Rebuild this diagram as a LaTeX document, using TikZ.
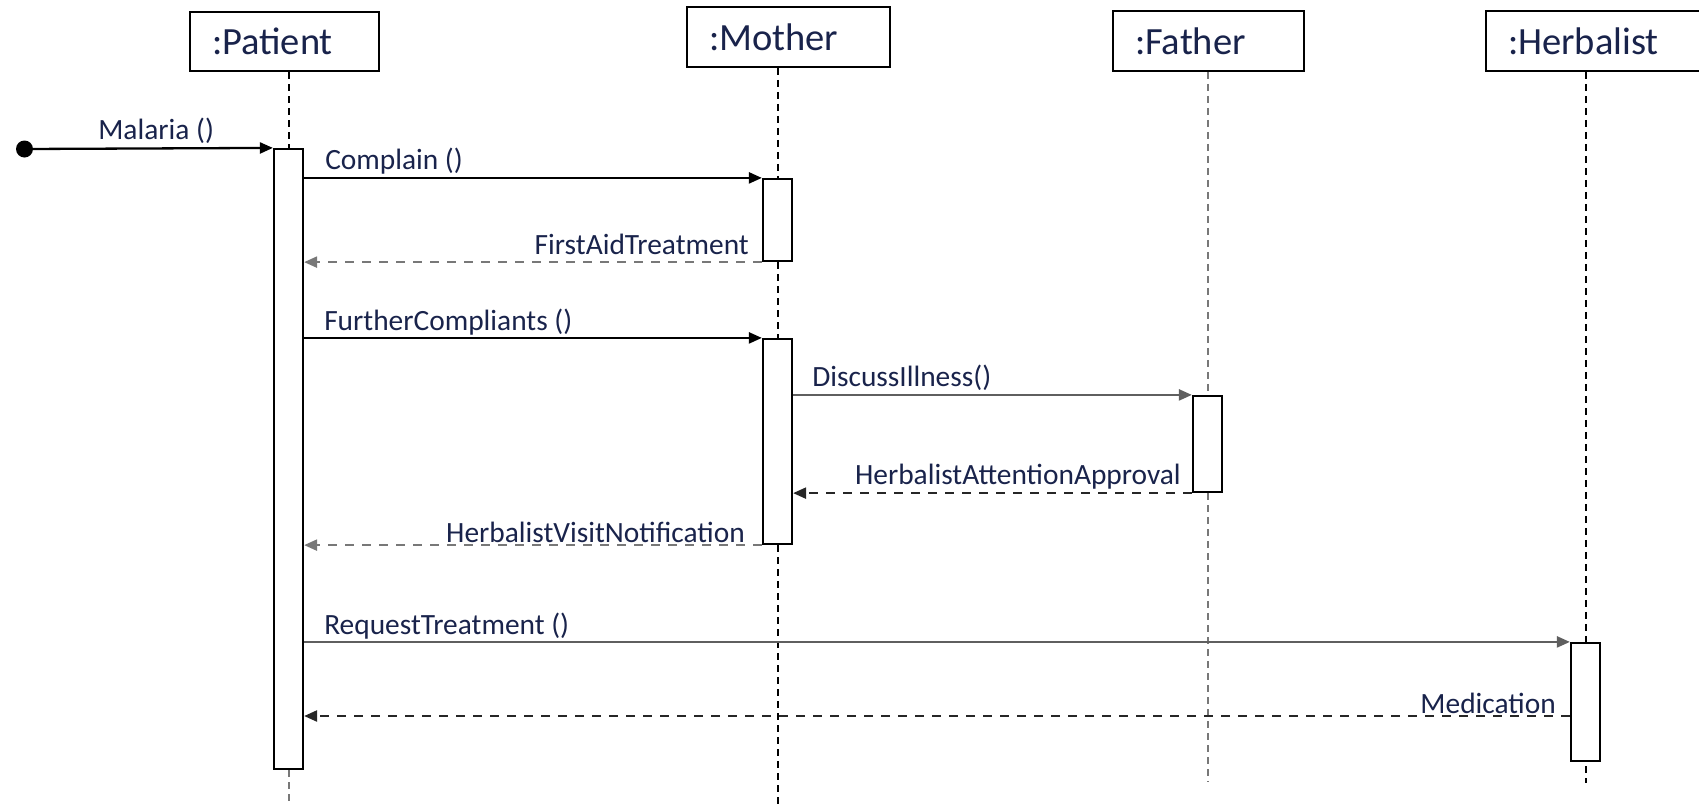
\documentclass[tikz,border=0pt]{standalone}
\usepackage{fontspec}
\usetikzlibrary{arrows.meta}
\newfontfamily\diagfont{Carlito}
\definecolor{txt}{RGB}{25,35,75}
\definecolor{linegray}{RGB}{95,95,95}
\definecolor{lifegray}{RGB}{120,120,120}
\begin{document}
\begin{tikzpicture}[x=0.5pt,y=-0.5pt,
  head/.style={draw, line width=1.1pt, fill=white, inner xsep=11pt, inner ysep=0pt,
    minimum height=29.75pt, align=left, text=txt,
    font=\diagfont\fontsize{19.25}{22}\selectfont},
  bar/.style={draw, line width=1.1pt, fill=white, minimum width=14.5pt, inner sep=0pt},
  life/.style={line width=1pt, dash pattern=on 3.5pt off 2.5pt},
  msg/.style={line width=1.15pt, -{Triangle[length=6.5pt,width=5.5pt]}},
  ret/.style={msg, dash pattern=on 4.5pt off 4pt},
  lab/.style={inner sep=0pt, text=txt, font=\diagfont\fontsize{14.7}{17}\selectfont}
]
\useasboundingbox (0,0) rectangle (1699,805);

% object heads
\node[head, text width=72.5pt] (patient) at (284.5,41.5) {:Patient};
\node[head, text width=79.5pt] (mother)  at (788.5,37)   {:Mother};
\node[head, text width=73.5pt] (father)  at (1208.5,41)  {:Father};
\node[head, text width=98pt]   (herb)    at (1606,41)    {:Herbalist};

% activation bars
\node[bar, minimum height=310pt]   (pbar)  at (288.5,459)   {};
\node[bar, minimum height=41pt]    (mbar1) at (777.5,220)   {};
\node[bar, minimum height=102.5pt] (mbar2) at (777.5,441.5) {};
\node[bar, minimum height=48pt]    (fbar)  at (1207.5,444)  {};
\node[bar, minimum height=59pt]    (hbar)  at (1585.5,702)  {};

% lifeline ends
\coordinate (pend) at (288.5,805);
\coordinate (mend) at (777.5,805);
\coordinate (fend) at (1207.5,782);
\coordinate (hend) at (1585.5,783);

% lifelines
\draw[life] (patient.south -| pbar.north) -- (pbar.north);
\draw[life, lifegray] (pbar.south) -- (pend);
\draw[life] (mother.south -| mbar1.north) -- (mbar1.north);
\draw[life] (mbar1.south) -- (mbar2.north);
\draw[life] (mbar2.south) -- (mend);
\draw[life, lifegray] (father.south -| fbar.north) -- (fbar.north);
\draw[life, lifegray] (fbar.south) -- (fend);
\draw[life] (herb.south -| hbar.north) -- (hbar.north);
\draw[life] ([yshift=-2pt]hbar.south) -- (hend);

% found message
\node[circle, fill=black, minimum size=8.5pt, inner sep=0pt] (start) at (24.5,149) {};
\draw[msg] (start.center) -- (pbar.north west)
  node[lab, pos=0.53, anchor=base, yshift=4.5pt] {Malaria ()};

% messages
\draw[msg] (pbar.east |- mbar1.north west) -- (mbar1.north west)
  node[lab, at start, anchor=base west, xshift=10pt, yshift=4pt] {Complain ()};
\draw[ret, lifegray] (mbar1.south west) -- (pbar.east |- mbar1.south west)
  node[lab, at start, anchor=base east, xshift=-6pt, yshift=4pt] {FirstAidTreatment};
\draw[msg] (pbar.east |- mbar2.north west) -- (mbar2.north west)
  node[lab, at start, anchor=base west, xshift=9.5pt, yshift=3.5pt] {FurtherCompliants ()};
\draw[msg, linegray] (mbar2.east |- fbar.north west) -- (fbar.north west)
  node[lab, at start, anchor=base west, xshift=9pt, yshift=4pt] {DiscussIllness()};
\draw[ret, black!85] (fbar.south west) -- (mbar2.east |- fbar.south west)
  node[lab, at start, anchor=base east, xshift=-5pt, yshift=4.5pt] {HerbalistAttentionApproval};
\draw[ret, lifegray] (mbar2.south west) -- (pbar.east |- mbar2.south west)
  node[lab, at start, anchor=base east, xshift=-8pt, yshift=1.5pt] {HerbalistVisitNotification};
\draw[msg, linegray] (pbar.east |- hbar.north west) -- (hbar.north west)
  node[lab, at start, anchor=base west, xshift=9.5pt, yshift=3.5pt] {RequestTreatment ()};
\coordinate (medy) at (0,716);
\draw[ret, black!85] (hbar.west |- medy) -- (pbar.east |- medy)
  node[lab, at start, anchor=base east, xshift=-6.5pt, yshift=1.5pt] {Medication};
\end{tikzpicture}
\end{document}
